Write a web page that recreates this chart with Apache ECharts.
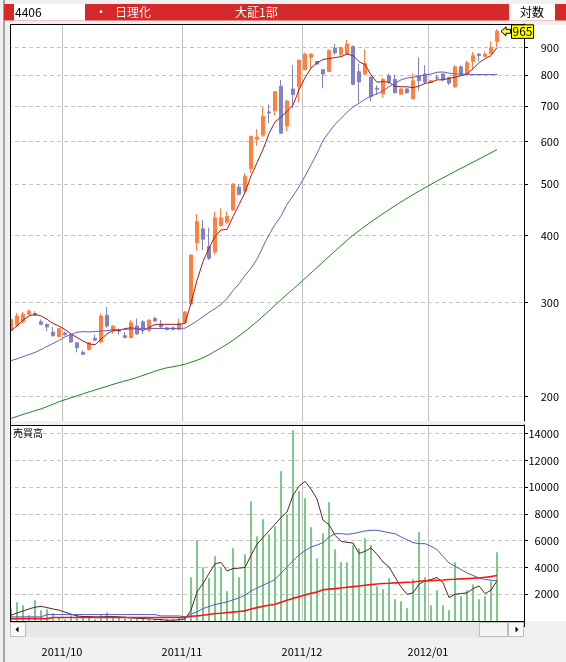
<!DOCTYPE html>
<html>
<head>
<meta charset="utf-8">
<title>4406 日理化</title>
<script src="https://cdn.jsdelivr.net/npm/echarts@6.0.0/dist/echarts.min.js"></script>
<style>
  html, body { margin: 0; padding: 0; background: #f0f0f0; }
  #chart { width: 566px; height: 662px; }
</style>
</head>
<body>
<div id="chart"></div>
<script>
// trading days shown (last four slots are empty space on the right)
const dates = [
  '2011/09/16','2011/09/20','2011/09/21','2011/09/22','2011/09/26','2011/09/27','2011/09/28','2011/09/29','2011/09/30',
  '2011/10/03','2011/10/04','2011/10/05','2011/10/06','2011/10/07','2011/10/11','2011/10/12','2011/10/13','2011/10/14','2011/10/17',
  '2011/10/18','2011/10/19','2011/10/20','2011/10/21','2011/10/24','2011/10/25','2011/10/26','2011/10/27','2011/10/28','2011/10/31',
  '2011/11/01','2011/11/02','2011/11/04','2011/11/07','2011/11/08','2011/11/09','2011/11/10','2011/11/11','2011/11/14','2011/11/15',
  '2011/11/16','2011/11/17','2011/11/18','2011/11/21','2011/11/22','2011/11/24','2011/11/25','2011/11/28','2011/11/29','2011/11/30',
  '2011/12/01','2011/12/02','2011/12/05','2011/12/06','2011/12/07','2011/12/08','2011/12/09','2011/12/12','2011/12/13','2011/12/14',
  '2011/12/15','2011/12/16','2011/12/19','2011/12/20','2011/12/21','2011/12/22','2011/12/26','2011/12/27','2011/12/28','2011/12/29','2011/12/30',
  '2012/01/04','2012/01/05','2012/01/06','2012/01/10','2012/01/11','2012/01/12','2012/01/13','2012/01/16','2012/01/17','2012/01/18',
  '2012/01/19','2012/01/20',
  '2012/01/23','2012/01/24','2012/01/25','2012/01/26'
];

const openP = [
  266, 272, 276, 285, 286, 276, 273, 264, 259, 263,
  261, 252, 242, 245, 257, 253, 284, 265, 266, 260,
  258, 271, 276, 266, 280, 273, 269, 269, 267, 275,
  298, 388, 412, 382, 373, 418, 424, 447, 493, 485,
  534, 606, 617, 682, 685, 762, 642, 753, 760, 818,
  862, 847, 818, 812, 898, 872, 875, 904, 811, 803,
  792, 755, 737, 797, 785, 736, 753, 722, 797, 803,
  774, 791, 803, 790, 760, 828, 800, 847, 875, 866,
  876, 924
];
const closeP = [
  279, 283, 285, 289, 284, 273, 270, 260, 268, 261,
  253, 247, 240, 252, 255, 283, 271, 271, 265, 258,
  275, 262, 268, 278, 277, 270, 267, 267, 274, 288,
  368, 425, 394, 363, 432, 432, 435, 500, 478, 517,
  614, 612, 669, 679, 744, 622, 715, 735, 852, 875,
  875, 838, 803, 889, 880, 900, 914, 768, 776, 840,
  729, 752, 784, 776, 741, 753, 741, 780, 780, 776,
  780, 789, 783, 772, 828, 800, 843, 869, 870, 875,
  900, 965
];
const lowP = [
  264, 270, 274, 284, 283, 272, 265, 259, 258, 260,
  252, 242, 239, 244, 254, 252, 269, 262, 261, 257,
  257, 261, 262, 264, 276, 269, 266, 266, 266, 275,
  297, 375, 376, 360, 369, 416, 420, 445, 476, 479,
  524, 589, 612, 650, 672, 620, 628, 692, 711, 816,
  818, 835, 755, 810, 872, 868, 873, 765, 711, 800,
  714, 735, 725, 770, 738, 733, 738, 720, 748, 770,
  772, 783, 780, 766, 756, 798, 798, 820, 847, 864,
  874, 902
];
const highP = [
  281, 287, 288, 291, 289, 279, 274, 270, 269, 265,
  262, 253, 244, 253, 261, 286, 294, 272, 268, 264,
  278, 280, 278, 279, 282, 278, 270, 270, 280, 289,
  369, 439, 428, 414, 444, 450, 444, 501, 500, 524,
  615, 633, 696, 704, 746, 782, 718, 834, 855, 880,
  878, 850, 820, 892, 914, 903, 930, 908, 840, 893,
  795, 765, 790, 805, 800, 755, 755, 805, 862, 834,
  783, 800, 806, 793, 834, 834, 851, 883, 878, 886,
  924, 975
];

// price moving averages as drawn
const ma5 = [
  266, 271, 278, 283, 285, 283, 279, 274, 271, 267,
  262, 258, 254, 251, 250, 256, 262, 266, 266, 268,
  269, 268, 266, 269, 273, 273, 273, 273, 273, 274,
  299, 330, 358, 379, 399, 410, 411, 434, 457, 482,
  517, 548, 580, 621, 653, 667, 683, 702, 750, 790,
  824, 842, 855, 858, 862, 865, 875, 869, 847, 836,
  800, 775, 777, 775, 762, 760, 760, 757, 762, 771,
  775, 783, 783, 788, 792, 797, 803, 821, 843, 858,
  869, 900
];
const ma25 = [
  233.5, 235.3, 237.5, 239.7, 241.9, 244.8, 248.3, 251.4, 254.7, 258.7,
  261.3, 263.9, 264.6, 264.3, 264.6, 265.3, 265.6, 266.8, 266.8, 267.2,
  267.5, 267.9, 267.9, 268.2, 268.2, 268.2, 268.2, 268.2, 268.2, 268.5,
  272.5, 277, 282, 287.5, 292, 297.5, 305, 315.8, 325, 337,
  347.7, 361.5, 381.5, 401.7, 419.6, 435, 458, 475, 494, 517,
  543, 570, 603, 625, 646, 663, 681, 696, 708, 720,
  730, 737, 747, 760, 771, 783, 789, 792, 795, 800,
  803, 809, 810, 806, 803, 803, 802, 801, 801, 801,
  801, 801
];
const ma75 = [
  182.0, 183.6, 185.2, 186.6, 188.3, 189.6, 191.5, 193.5, 195.6, 197.3,
  199.0, 200.6, 202.4, 204.1, 205.7, 207.4, 209.0, 210.8, 212.3, 214.0,
  215.3, 217.2, 219.1, 221.0, 223.1, 224.9, 226.4, 227.4, 228.6, 229.9,
  231.9, 233.9, 236.4, 239.5, 243.1, 246.8, 250.6, 254.9, 259.8, 264.8,
  270.5, 276.3, 282.7, 289.2, 296.5, 303.6, 310.7, 317.7, 325.0, 332.7,
  340.7, 348.8, 357.2, 365.8, 374.4, 383.2, 392.1, 400.8, 408.8, 416.6,
  424.4, 432.2, 439.9, 447.5, 455.1, 462.7, 470.1, 477.4, 484.7, 491.9,
  499.1, 506.3, 513.3, 520.4, 527.7, 534.8, 541.9, 549.2, 556.6, 564.1,
  572.0, 579.9
];

// 売買高 (volume) and its averages
const volume = [
  900, 1400, 1180, 430, 1550, 810, 880, 580, 230, 130,
  430, 430, 310, 310, 130, 430, 660, 230, 230, 310,
  160, 230, 230, 130, 130, 130, 130, 130, 230, 360,
  3270, 6030, 4020, 3200, 4840, 4020, 2230, 5440, 3270, 4990,
  8950, 6330, 7600, 6480, 7080, 11190, 7980, 14260, 9690, 9170,
  7000, 4690, 6560, 8870, 5360, 4390, 4390, 5660, 5440, 6180,
  5660, 2600, 2370, 3200, 1630, 1480, 960, 3120, 6630, 3270,
  1180, 2300, 1180, 810, 4390, 1850, 2300, 2750, 1630, 1850,
  2970, 5140
];
const volMa5 = [
  430, 600, 750, 900, 1030, 1100, 1000, 900, 810, 660,
  510, 380, 330, 330, 310, 310, 330, 330, 310, 280,
  230, 210, 180, 160, 130, 110, 60, 60, 90, 150,
  810, 2180, 2800, 3550, 4290, 4370, 3740, 3920, 3950, 4000,
  4910, 5740, 6240, 6730, 7230, 7740, 8150, 9390, 10080, 10440,
  9860, 9120, 7530, 7210, 6410, 5960, 5880, 5830, 5040, 5210,
  5460, 4990, 4410, 4040, 3290, 2550, 2000, 2100, 2750, 3000,
  3100, 3250, 2870, 1750, 2000, 2050, 2100, 2420, 2620, 2050,
  2300, 3000
];
const volMa25 = [
  310, 310, 310, 310, 310, 310, 480, 480, 480, 480,
  480, 480, 480, 480, 480, 480, 480, 480, 480, 480,
  480, 480, 480, 480, 480, 380, 380, 380, 380, 310,
  510, 680, 930, 1080, 1230, 1330, 1430, 1580, 1730, 1930,
  2250, 2460, 2670, 2880, 3100, 3580, 4040, 4500, 4930, 5260,
  5530, 5680, 5860, 6280, 6530, 6530, 6480, 6530, 6630, 6730,
  6780, 6780, 6700, 6600, 6530, 6280, 6080, 5860, 5780, 5780,
  5590, 5340, 4840, 4340, 4090, 3840, 3590, 3400, 3220, 3100,
  3050, 3000
];
const volMa75 = [
  180, 180, 180, 180, 180, 180, 180, 260, 260, 260,
  260, 260, 260, 260, 260, 260, 260, 260, 260, 260,
  260, 260, 260, 260, 260, 260, 260, 260, 260, 260,
  360, 380, 430, 480, 560, 580, 630, 660, 710, 760,
  900, 1000, 1100, 1180, 1250, 1400, 1550, 1690, 1820, 1940,
  2080, 2160, 2330, 2380, 2420, 2470, 2520, 2570, 2620, 2670,
  2720, 2770, 2800, 2820, 2850, 2870, 2900, 2920, 2970, 3000,
  3020, 3050, 3070, 3100, 3120, 3150, 3170, 3200, 3220, 3270,
  3320, 3400
];

const priceTicks = [200, 300, 400, 500, 600, 700, 800, 900];
const volumeTicks = [2000, 4000, 6000, 8000, 10000, 12000, 14000];
const lastPrice = 965;

const font = '"Noto Sans CJK JP", "Noto Sans", sans-serif';
const ln = Math.log;

// month boundaries get a grid line, a tick and a label
function isMonthStart(index) {
  return index > 0 && dates[index].slice(0, 7) !== dates[index - 1].slice(0, 7);
}

const candleData = openP.map((o, i) => [ln(o), ln(closeP[i]), ln(lowP[i]), ln(highP[i])]);

const vGrid = { show: true, interval: isMonthStart, lineStyle: { color: '#c0c0c0', width: 1 } };
const hGrid = { show: true, lineStyle: { color: '#c4c4c4', width: 1, type: [4, 3] } };

function maLine(data, color, xi, width) {
  return {
    type: 'line', xAxisIndex: xi, yAxisIndex: xi, data: data,
    symbol: 'none', showSymbol: false, silent: true, z: 3,
    lineStyle: { color: color, width: width || 1 }
  };
}

const option = {
  animation: false,
  backgroundColor: '#f0f0f0',
  grid: [
    { left: 8, top: 24, width: 516, height: 397, show: true, backgroundColor: '#fff', borderWidth: 0, outerBoundsMode: 'none' },
    { left: 8, top: 425, width: 516, height: 196, show: true, backgroundColor: '#fff', borderWidth: 0, outerBoundsMode: 'none' }
  ],
  xAxis: [
    {
      type: 'category', gridIndex: 0, data: dates, boundaryGap: true,
      axisLine: { show: false }, axisTick: { show: false }, axisLabel: { show: false },
      splitLine: vGrid
    },
    {
      type: 'category', gridIndex: 1, data: dates, boundaryGap: true, offset: 18,
      axisLine: { show: false },
      axisTick: { show: true, interval: isMonthStart, length: 6, lineStyle: { color: '#000' } },
      axisLabel: {
        show: true, interval: isMonthStart, margin: 7, color: '#000',
        fontSize: 11, fontFamily: font, padding: [0, 6, 0, 0],
        formatter: v => v.slice(0, 7)
      },
      splitLine: vGrid
    }
  ],
  yAxis: [
    {
      type: 'value', gridIndex: 0, position: 'right',
      min: ln(180), max: ln(996),
      axisLine: { show: true, lineStyle: { color: '#000' } },
      axisTick: { show: true, length: 4, customValues: priceTicks.map(ln), lineStyle: { color: '#000' } },
      axisLabel: {
        customValues: priceTicks.map(ln), align: 'right', margin: 35,
        color: '#000', fontSize: 11, fontFamily: font,
        formatter: v => String(Math.round(Math.exp(v)))
      },
      splitLine: hGrid
    },
    {
      type: 'value', gridIndex: 1, position: 'right',
      min: 0, max: 14650,
      axisLine: { show: true, lineStyle: { color: '#000' } },
      axisTick: { show: true, length: 4, customValues: volumeTicks, lineStyle: { color: '#000' } },
      axisLabel: {
        customValues: volumeTicks, align: 'right', margin: 35,
        color: '#000', fontSize: 11, fontFamily: font,
        formatter: v => String(v)
      },
      splitLine: hGrid
    }
  ],
  series: [
    {
      type: 'candlestick', xAxisIndex: 0, yAxisIndex: 0, data: candleData,
      barWidth: 4, silent: true,
      itemStyle: { color: '#ff8040', color0: '#8282c4', borderColor: '#ff8040', borderColor0: '#8282c4', borderWidth: 1 }
    },
    maLine(ma5.map(ln), '#a31c1c', 0),
    maLine(ma25.map(ln), '#6a5acd', 0),
    maLine(ma75.map(ln), '#1f8a1f', 0),
    {
      type: 'bar', xAxisIndex: 1, yAxisIndex: 1, data: volume, barWidth: 2, silent: true,
      itemStyle: { color: '#7cca8a' }
    },
    maLine(volMa5, '#5b2424', 1),
    maLine(volMa25, '#4b5fbd', 1),
    maLine(volMa75, '#ff1414', 1, 1.6)
  ]
};

const chart = echarts.init(document.getElementById('chart'));
chart.setOption(option);

// marker of the last price, placed through the price axis
const p = chart.convertToPixel({ gridIndex: 0 }, [openP.length - 1, ln(lastPrice)]);
const px = p[0], py = p[1];

function txt(x, y, s, color, size, align) {
  return {
    type: 'text', x: x, y: y, z: 80,
    style: {
      text: s, fill: color, font: size + 'px ' + font,
      textAlign: align || 'left', align: align || 'left',
      textVerticalAlign: 'middle', verticalAlign: 'middle'
    }
  };
}
function ln2(x1, y1, x2, y2, color) {
  return { type: 'line', z: 60, shape: { x1: x1, y1: y1, x2: x2, y2: y2 }, style: { stroke: color, lineWidth: 1 } };
}

chart.setOption({
  graphic: { elements: [
    // label column background
    { type: 'rect', z: -10, shape: { x: 525, y: 25, width: 41, height: 596 }, style: { fill: '#fff' } },
    // window frame
    { type: 'rect', z: 5, shape: { x: 3, y: 0, width: 2, height: 662 }, style: { fill: '#a4a4a4' } },
    // header
    { type: 'rect', z: 10, shape: { x: 4, y: 4, width: 562, height: 16.5 }, style: { fill: '#d62a2a' } },
    { type: 'rect', z: 11, shape: { x: 14, y: 4, width: 71, height: 16.5 }, style: { fill: '#fff' } },
    { type: 'rect', z: 11, shape: { x: 509, y: 4, width: 46, height: 16.5 }, style: { fill: '#fff' } },
    txt(15, 12.5, '4406', '#000', 12),
    txt(95, 12.5, '・', '#fff', 12),
    txt(115, 12.5, '日理化', '#fff', 12),
    txt(235, 12.5, '大証1部', '#fff', 12),
    txt(520, 12.5, '対数', '#000', 12),
    // left cover and borders
    { type: 'rect', z: 50, shape: { x: 5, y: 24, width: 5, height: 598 }, style: { fill: '#f0f0f0' } },
    ln2(10, 24.5, 524, 24.5, '#000'),
    ln2(10.5, 24, 10.5, 621.5, '#000'),
    ln2(10, 425.5, 524, 425.5, '#000'),
    ln2(10, 621.5, 524, 621.5, '#000'),
    txt(13, 433.5, '売買高', '#000', 10),
    // scrollbar
    { type: 'rect', z: 20, shape: { x: 11, y: 622, width: 513, height: 15 }, style: { fill: '#e7e7e7' } },
    { type: 'rect', z: 21, shape: { x: 10.5, y: 622.5, width: 15, height: 14 }, style: { fill: '#f8f8f8', stroke: '#bdbdbd', lineWidth: 1 } },
    { type: 'polygon', z: 22, shape: { points: [[15.5, 629.5], [18.5, 626.5], [18.5, 632.5]] }, style: { fill: '#000' } },
    { type: 'rect', z: 21, shape: { x: 479.5, y: 622.5, width: 28, height: 14 }, style: { fill: '#f4f4f4', stroke: '#bdbdbd', lineWidth: 1 } },
    { type: 'rect', z: 21, shape: { x: 508.5, y: 622.5, width: 15, height: 14 }, style: { fill: '#f8f8f8', stroke: '#bdbdbd', lineWidth: 1 } },
    { type: 'polygon', z: 22, shape: { points: [[518.5, 629.5], [515.5, 626.5], [515.5, 632.5]] }, style: { fill: '#000' } },
    { type: 'rect', z: 70, shape: { x: 521, y: 638, width: 6, height: 9 }, style: { fill: '#f0f0f0' } },
    // last price marker
    { type: 'polygon', z: 70, shape: { points: [
        [px + 4, py], [px + 9, py - 4.5], [px + 9, py - 2], [px + 13.5, py - 2],
        [px + 13.5, py + 2], [px + 9, py + 2], [px + 9, py + 4.5]] },
      style: { fill: '#ffff00', stroke: '#000', lineWidth: 1 } },
    { type: 'rect', z: 70, shape: { x: px + 14.5, y: py - 6.5, width: 22, height: 13.5 }, style: { fill: '#ffff00', stroke: '#000', lineWidth: 1 } },
    txt(px + 25.5, py + 0.5, String(lastPrice), '#000', 12, 'center')
  ] }
});
</script>
</body>
</html>
